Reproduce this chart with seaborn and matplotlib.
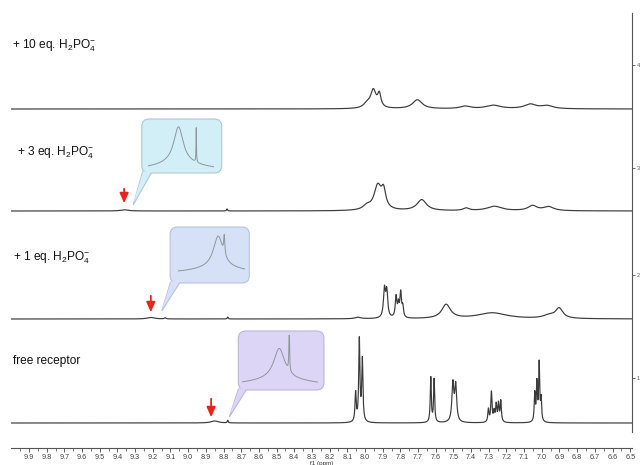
import numpy as np
import pandas as pd
import matplotlib
matplotlib.use('Agg')
import matplotlib.pyplot as plt
from matplotlib.patches import FancyBboxPatch, Polygon
import seaborn as sns

sns.set_theme(style='white')
plt.rcParams['font.family'] = ['Liberation Sans', 'DejaVu Sans']
plt.rcParams['mathtext.fontset'] = 'custom'
plt.rcParams['mathtext.rm'] = 'Liberation Sans'

# peak tables: (shift in ppm, height, FWHM in ppm)
free_peaks = [(8.85, 2, 0.05), (8.776, 2.5, 0.006),
              (8.053, 29, 0.008), (8.032, 82, 0.008), (8.015, 62, 0.008),
              (7.628, 45, 0.007), (7.609, 43, 0.007),
              (7.503, 38, 0.013), (7.487, 36, 0.013),
              (7.302, 13, 0.008), (7.285, 30, 0.008), (7.270, 10, 0.008),
              (7.258, 17, 0.008), (7.245, 18, 0.008), (7.232, 21, 0.008),
              (7.040, 28, 0.007), (7.028, 38, 0.007), (7.015, 58, 0.007), (7.004, 22, 0.007)]
eq1_peaks = [(9.21, 1.5, 0.05), (9.13, 1.2, 0.01), (8.776, 2, 0.006), (8.04, 1.5, 0.04),
             (7.890, 28, 0.013), (7.877, 26, 0.013), (7.824, 21, 0.011),
             (7.811, 12, 0.009), (7.798, 25, 0.011), (7.786, 10, 0.009),
             (7.541, 14, 0.06), (7.28, 6, 0.20), (6.96, 3, 0.08), (6.902, 10, 0.05)]
eq3_peaks = [(9.36, 1.2, 0.05), (8.78, 2, 0.006), (7.99, 4, 0.05),
             (7.928, 24, 0.05), (7.895, 17, 0.03),
             (7.679, 11, 0.065), (7.428, 2.5, 0.04), (7.268, 4.5, 0.10),
             (7.053, 5, 0.06), (6.962, 4, 0.07)]
eq10_peaks = [(7.99, 4, 0.045), (7.953, 18, 0.038), (7.919, 13, 0.022),
              (7.704, 9, 0.065), (7.434, 2.5, 0.07), (7.274, 3.5, 0.10),
              (7.065, 4.5, 0.08), (6.970, 3, 0.08)]

spectrum_names = ['free receptor', '+ 1 eq.', '+ 3 eq.', '+ 10 eq.']
spectrum_peaks = [free_peaks, eq1_peaks, eq3_peaks, eq10_peaks]
trace_numbers = ['1', '2', '3', '4']

# zoomed signals shown in the callouts (window, peaks)
inset_windows = [(8.95, 8.75), (9.30, 9.10), (9.50, 9.24)]
inset_peaks = [
    [(8.852, 0.60, 0.035), (8.852, 0.14, 0.22), (8.826, 0.85, 0.002)],
    [(9.18, 0.78, 0.035), (9.18, 0.14, 0.2), (9.162, 0.45, 0.004)],
    [(9.38, 0.80, 0.045), (9.38, 0.16, 0.25), (9.31, 0.75, 0.002)],
]


def lorentz_sum(ppm, peaks):
    y = np.zeros_like(ppm)
    for c, h, w in peaks:
        y += h / (1 + ((ppm - c) / (w / 2)) ** 2)
    return y


fig = plt.figure(figsize=(6.4, 4.65), dpi=100)
ax = fig.add_axes([11.3 / 640, 17 / 465, (632 - 11.3) / 640, 436 / 465])
X_MAX, X_MIN, Y_TOP = 10.0, 6.49, 436

ppm = np.linspace(X_MAX, X_MIN, 8000)
offsets = [25, 129, 237, 339]
for peaks, off in zip(spectrum_peaks, offsets):
    df = pd.DataFrame({'ppm': ppm, 'I': off + lorentz_sum(ppm, peaks)})
    sns.lineplot(data=df, x='ppm', y='I', ax=ax, color='#3a3a3a', linewidth=0.85,
                 estimator=None, sort=False)

ax.set_xlim(X_MAX, X_MIN)
ax.set_ylim(0, Y_TOP)

# labels on the left
label_texts = ['free receptor',
               r'+ 1 eq. H$_\mathregular{2}$PO$_\mathregular{4}^\mathregular{-}$',
               r'+ 3 eq. H$_\mathregular{2}$PO$_\mathregular{4}^\mathregular{-}$',
               r'+ 10 eq. H$_\mathregular{2}$PO$_\mathregular{4}^\mathregular{-}$']
label_pos = [(9.99, 87), (9.99, 190), (9.968, 295), (9.995, 402)]
for t, (lx, ly) in zip(label_texts, label_pos):
    ax.text(lx, ly, t, fontsize=8.6, color='#111111', va='center', ha='left')

# callouts: box (ppm right, ppm left, y bottom, y top), tail base, tail tip, arrow, colour
callouts = [
    dict(box=(8.232, 8.716, 58, 117), base=(8.716, 8.668), tip=(8.767, 31),
         arrow=(8.87, 52, 28), face='#dcd5f6', edge='#bdb6d8'),
    dict(box=(8.654, 9.102, 165, 221), base=(9.100, 9.045), tip=(9.149, 137),
         arrow=(9.211, 155, 133), face='#d6e1f7', edge='#b7c3dc'),
    dict(box=(8.810, 9.262, 275, 329), base=(9.258, 9.205), tip=(9.311, 243),
         arrow=(9.362, 262, 242), face='#d2eff8', edge='#aec8d1'),
]
inset_px = [(241.7, 318.3, 335, 387), (178, 245, 233, 274), (148, 214, 125, 171)]
ASPECT = 177.0

for co, win, ipk, (ix0, ix1, iy0, iy1) in zip(callouts, inset_windows, inset_peaks, inset_px):
    xr, xl, yb, yt = co['box']
    b0, b1 = co['base']
    tx, ty = co['tip']
    tail = Polygon([(b0, yb + 1), (tx, ty), (b1, yb + 1)], closed=True,
                   facecolor=co['face'], edgecolor=co['edge'], linewidth=0.8, zorder=3)
    ax.add_patch(tail)
    box = FancyBboxPatch((xr, yb), xl - xr, yt - yb,
                         boxstyle='round,pad=0,rounding_size=0.042',
                         mutation_aspect=ASPECT, facecolor=co['face'],
                         edgecolor=co['edge'], linewidth=0.8, zorder=3.1)
    ax.add_patch(box)
    cover = Polygon([(b0 - 0.004, yb + 1.5), (tx, ty + 1.5), (b1 + 0.004, yb + 1.5)],
                    closed=True, facecolor=co['face'], edgecolor='none', zorder=3.2)
    ax.add_patch(cover)
    ax_x, yy0, yy1 = co['arrow']
    ax.annotate('', xy=(ax_x, yy1), xytext=(ax_x, yy0),
                arrowprops=dict(arrowstyle='-|>,head_length=0.5,head_width=0.22',
                                color='#e8231c', lw=1.3), zorder=4)
    # zoomed signal inside the box
    iax = fig.add_axes([ix0 / 640, 1 - iy1 / 465, (ix1 - ix0) / 640, (iy1 - iy0) / 465])
    iax.set_facecolor('none')
    ippm = np.linspace(win[0], win[1], 1500)
    idf = pd.DataFrame({'ppm': ippm, 'I': lorentz_sum(ippm, ipk)})
    sns.lineplot(data=idf, x='ppm', y='I', ax=iax, color='#8d979b', linewidth=0.7,
                 estimator=None, sort=False)
    iax.set_xlim(win[0], win[1])
    iax.set_ylim(0, 1.0)
    iax.set_axis_off()

# axes styling
for s in ['left', 'top']:
    ax.spines[s].set_visible(False)
for s in ['bottom', 'right']:
    ax.spines[s].set_color('#555555')
    ax.spines[s].set_linewidth(0.8)
ax.spines['right'].set_bounds(16, 435)

major = np.round(np.arange(9.9, 6.45, -0.1), 1)
ax.set_xticks(major)
ax.set_xticklabels([f'{v:.1f}' for v in major])
ax.set_xticks(np.round(np.arange(9.95, 6.45, -0.1), 2), minor=True)
ax.tick_params(axis='x', which='major', direction='out', length=3, width=0.6,
               colors='#444444', labelsize=5.2, pad=1.5, bottom=True)
ax.tick_params(axis='x', which='minor', direction='out', length=2, width=0.5,
               colors='#444444', bottom=True)
ax.set_xlabel('f1 (ppm)', fontsize=4.5, labelpad=-0.5, color='#333333')

ax.yaxis.tick_right()
ax.set_yticks([70, 173, 280, 383])
ax.set_yticklabels(trace_numbers)
ax.set_ylabel('')
ax.tick_params(axis='y', direction='out', length=2.5, width=0.6, colors='#555555',
               labelsize=4, pad=1, right=True, left=False)
ax.grid(False)

fig.savefig('out.png', dpi=100)
